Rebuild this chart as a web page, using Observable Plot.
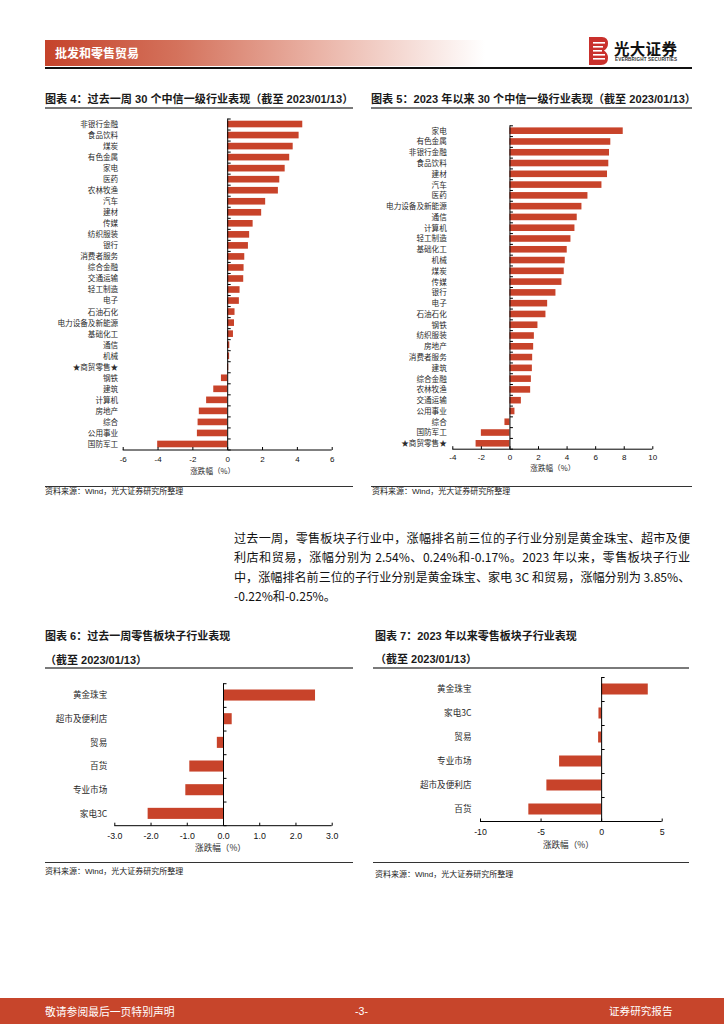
<!DOCTYPE html>
<html>
<head>
<meta charset="utf-8">
<script src="https://cdn.jsdelivr.net/npm/d3@7"></script>
<script src="https://cdn.jsdelivr.net/npm/@observablehq/plot@0.6"></script>
<style>
  html, body { margin: 0; padding: 0; background: #fff; }
  #page { position: relative; width: 724px; height: 1024px; overflow: hidden; background: #fff;
          font-family: "Liberation Sans", "Noto Sans CJK SC", sans-serif; color: #111; }
  .abs { position: absolute; white-space: nowrap; }
  .title { font-size: 11.1px; font-weight: bold; line-height: 13px; color: #1a1a1a; }
  .title2 { font-size: 11px; font-weight: bold; line-height: 14px; color: #1a1a1a; }
  .rule-gray { position: absolute; height: 1.5px; background: #7a7a7a; }
  .rule-dark { position: absolute; height: 1px; background: #333; }
  .source { font-size: 8px; line-height: 10px; color: #222; }
  .para { position: absolute; left: 234px; width: 456px; font-size: 12.1px; line-height: 19.3px; color: #111;
          font-family: "Noto Sans CJK SC", "Liberation Sans", sans-serif; }
  .para div { text-align: justify; text-align-last: justify; white-space: nowrap; }
  .para div.last { text-align-last: left; }
  .chart { position: absolute; }
  .chart svg { display: block; overflow: visible; }
</style>
</head>
<body>
<div id="page">
  <!-- header -->
  <div class="abs" style="left:45px;top:40px;width:440px;height:26px;background:linear-gradient(to right,#c5432b 0%,#d4725c 30%,#eab3a6 62%,#ffffff 100%);"></div>
  <div class="abs" style="left:55px;top:45px;font-size:12px;line-height:16px;font-weight:bold;color:#fff;font-family:'Noto Sans CJK SC',sans-serif;">批发和零售贸易</div>
  <svg class="abs" style="left:589px;top:37px" width="20" height="28" viewBox="0 0 20 28">
    <path d="M0 0 H13 Q19 0 19 6.5 Q19 11 15 13.5 Q19 16 19 21 Q19 28 12 28 H0 Z" fill="#c9302c"/>
    <rect x="4" y="5" width="12" height="1.6" fill="#fff"/>
    <rect x="4" y="9" width="10" height="1.6" fill="#fff"/>
    <rect x="4" y="13" width="9" height="1.6" fill="#fff"/>
    <rect x="4" y="17" width="12" height="1.6" fill="#fff"/>
    <rect x="4" y="21" width="12" height="1.6" fill="#fff"/>
  </svg>
  <div class="abs" style="left:614px;top:39px;font-size:15.5px;line-height:18px;font-weight:bold;color:#111;font-family:'Noto Sans CJK SC',sans-serif;letter-spacing:0.3px;">光大证券</div>
  <div class="abs" style="left:615px;top:57px;font-size:4.6px;line-height:5px;color:#333;letter-spacing:0.15px;font-weight:bold;">EVERBRIGHT SECURITIES</div>
  <div class="abs" style="left:45px;top:67px;width:647px;height:1.6px;background:#111;"></div>

  <!-- top titles -->
  <div class="abs title" style="left:45px;top:93px;">图表 4：过去一周 30 个中信一级行业表现（截至 2023/01/13）</div>
  <div class="rule-gray" style="left:45px;top:107px;width:308px;"></div>
  <div class="abs title" style="left:371px;top:93px;">图表 5：2023 年以来 30 个中信一级行业表现（截至 2023/01/13）</div>
  <div class="rule-gray" style="left:371px;top:107px;width:321px;"></div>

  <div id="c4" class="chart" style="left:45px;top:110px;"></div>
  <div id="c5" class="chart" style="left:371px;top:110px;"></div>

  <div class="rule-dark" style="left:45px;top:486px;width:308px;"></div>
  <div class="abs source" style="left:45px;top:487px;">资料来源：Wind，光大证券研究所整理</div>
  <div class="rule-dark" style="left:371px;top:486px;width:321px;"></div>
  <div class="abs source" style="left:372px;top:487px;">资料来源：Wind，光大证券研究所整理</div>

  <!-- paragraph -->
  <div class="para" style="top:528px;">
    <div>过去一周，零售板块子行业中，涨幅排名前三位的子行业分别是黄金珠宝、超市及便</div>
    <div>利店和贸易，涨幅分别为 2.54%、0.24%和-0.17%。2023 年以来，零售板块子行业</div>
    <div>中，涨幅排名前三位的子行业分别是黄金珠宝、家电 3C 和贸易，涨幅分别为 3.85%、</div>
    <div class="last">-0.22%和-0.25%。</div>
  </div>

  <!-- bottom titles -->
  <div class="abs title2" style="left:45px;top:629px;">图表 6：过去一周零售板块子行业表现</div>
  <div class="abs title2" style="left:45px;top:653px;">（截至 2023/01/13）</div>
  <div class="rule-gray" style="left:45px;top:667px;width:308px;"></div>
  <div class="abs title2" style="left:375px;top:629px;">图表 7：2023 年以来零售板块子行业表现</div>
  <div class="abs title2" style="left:375px;top:652px;">（截至 2023/01/13）</div>
  <div class="rule-gray" style="left:373px;top:667px;width:316px;"></div>

  <div id="c6" class="chart" style="left:45px;top:672px;"></div>
  <div id="c7" class="chart" style="left:371px;top:670px;"></div>

  <div class="rule-dark" style="left:45px;top:862px;width:308px;"></div>
  <div class="abs source" style="left:45px;top:867px;">资料来源：Wind，光大证券研究所整理</div>
  <div class="rule-dark" style="left:373px;top:862px;width:316px;"></div>
  <div class="abs source" style="left:375px;top:870px;">资料来源：Wind，光大证券研究所整理</div>

  <!-- footer -->
  <div class="abs" style="left:0;top:998px;width:724px;height:26px;background:#c7452b;"></div>
  <div class="abs" style="left:45px;top:1004px;font-size:10.8px;line-height:14px;color:#fff;font-family:'Noto Sans CJK SC',sans-serif;">敬请参阅最后一页特别声明</div>
  <div class="abs" style="left:355px;top:1004px;font-size:10.6px;line-height:14px;color:#fff;">-3-</div>
  <div class="abs" style="left:609px;top:1004px;font-size:10.6px;line-height:14px;color:#fff;font-family:'Noto Sans CJK SC',sans-serif;">证券研究报告</div>
</div>

<script>
// ---------------- data ----------------
const weekIndustries = ["非银行金融","食品饮料","煤炭","有色金属","家电","医药","农林牧渔","汽车","建材","传媒",
  "纺织服装","银行","消费者服务","综合金融","交通运输","轻工制造","电子","石油石化","电力设备及新能源","基础化工",
  "通信","机械","★商贸零售★","钢铁","建筑","计算机","房地产","综合","公用事业","国防军工"];
const weekChanges = [4.31,4.10,3.76,3.56,3.30,2.99,2.91,2.18,1.95,1.46,
  1.26,1.19,0.98,0.94,0.92,0.71,0.67,0.42,0.39,0.33,
  0.12,0.11,0.06,-0.36,-0.80,-1.21,-1.63,-1.70,-1.74,-4.02];
const weekTicks = [-6,-4,-2,0,2,4,6];

const ytdIndustries = ["家电","有色金属","非银行金融","食品饮料","建材","汽车","医药","电力设备及新能源","通信","计算机",
  "轻工制造","基础化工","机械","煤炭","传媒","银行","电子","石油石化","钢铁","纺织服装",
  "房地产","消费者服务","建筑","综合金融","农林牧渔","交通运输","公用事业","综合","国防军工","★商贸零售★"];
const ytdChanges = [7.93,7.06,6.97,6.92,6.83,6.44,5.46,5.04,4.71,4.55,
  4.27,4.01,3.87,3.80,3.64,3.22,2.64,2.52,1.96,1.71,
  1.66,1.59,1.57,1.50,1.45,0.80,0.35,-0.35,-2.00,-2.37];
const ytdTicks = [-4,-2,0,2,4,6,8,10];

const weekRetail = ["黄金珠宝","超市及便利店","贸易","百货","专业市场","家电3C"];
const weekRetailChanges = [2.54,0.24,-0.17,-0.93,-1.04,-2.08];
const weekRetailTicks = [-3,-2,-1,0,1,2,3];

const ytdRetail = ["黄金珠宝","家电3C","贸易","专业市场","超市及便利店","百货"];
const ytdRetailChanges = [3.85,-0.22,-0.25,-3.47,-4.52,-6.01];
const ytdRetailTicks = [-10,-5,0,5];

const axisTitle = "涨跌幅（%）";

// ---------------- drawing ----------------
const RED = "#c8432a";
const CJK = "'Noto Sans CJK SC', sans-serif";
const tickRight = {draw(ctx) { ctx.moveTo(0, 0); ctx.lineTo(3, 0); }};
const tickUp = {draw(ctx) { ctx.moveTo(0, 0); ctx.lineTo(0, -3); }};

function barChart(o) {
  const n = o.cats.length;
  const idx = d3.range(n);
  const bounds = d3.range(n + 1).map(i => i - 0.5);
  return Plot.plot({
    width: o.width, height: o.height,
    marginLeft: o.ml, marginRight: o.mr, marginTop: o.mt, marginBottom: o.mb,
    x: {domain: [o.ticks[0], o.ticks[o.ticks.length - 1]]},
    y: {domain: [-0.5, n - 0.5], reverse: true},
    style: {fontFamily: "'Liberation Sans', 'Noto Sans CJK SC', sans-serif", fontSize: o.numSize + "px", color: "#000", background: "transparent", overflow: "visible"},
    marks: [
      Plot.rectX(idx, {x1: 0, x2: i => o.vals[i], y1: i => i - 0.5, y2: i => i + 0.5,
        insetTop: o.inset, insetBottom: o.inset, fill: RED}),
      Plot.ruleX([0], {stroke: "#000", strokeWidth: 1}),
      Plot.ruleY([n - 0.5], {stroke: "#000", strokeWidth: 1}),
      Plot.dot(bounds, {x: () => 0, y: d => d, symbol: tickRight, stroke: "#000", fill: "none", strokeWidth: 1}),
      Plot.dot(o.ticks, {x: d => d, frameAnchor: "bottom", symbol: tickUp, stroke: "#000", fill: "none", strokeWidth: 1}),
      Plot.axisX({ticks: o.ticks, tickSize: 0, tickPadding: o.xPad, tickFormat: o.fmt, label: null,
        fontSize: o.numSize, fill: "#111"}),
      Plot.axisY({ticks: idx, tickSize: 0, tickPadding: o.yPad, tickFormat: i => o.cats[i], label: null,
        fontFamily: CJK, fontSize: o.catSize, fill: "#2a2a2a"}),
      Plot.text([axisTitle], {text: d => d, frameAnchor: "bottom", dy: o.titleDy, dx: o.titleDx,
        fontFamily: CJK, fontSize: o.catSize, fill: "#2a2a2a"})
    ]
  });
}

const intFmt = d => String(d);
const oneFmt = d => d.toFixed(1);

document.getElementById("c4").append(barChart({
  cats: weekIndustries, vals: weekChanges, ticks: weekTicks, fmt: intFmt,
  width: 308, height: 380, ml: 77.7, mr: 21.3, mt: 8.5, mb: 40.5,
  inset: 2.2, numSize: 8, catSize: 7.6, xPad: 6, yPad: 5, titleDy: 23.5, titleDx: -15
}));
document.getElementById("c5").append(barChart({
  cats: ytdIndustries, vals: ytdChanges, ticks: ytdTicks, fmt: intFmt,
  width: 321, height: 380, ml: 81.3, mr: 39.7, mt: 15.3, mb: 41.3,
  inset: 2.1, numSize: 8, catSize: 7.6, xPad: 5, yPad: 6, titleDy: 22, titleDx: 0
}));
document.getElementById("c6").append(barChart({
  cats: weekRetail, vals: weekRetailChanges, ticks: weekRetailTicks, fmt: oneFmt,
  width: 308, height: 188, ml: 69.3, mr: 21.3, mt: 11.2, mb: 34.8,
  inset: 6.3, numSize: 8.8, catSize: 8.6, xPad: 7, yPad: 7.5, titleDy: 25, titleDx: -3
}));
document.getElementById("c7").append(barChart({
  cats: ytdRetail, vals: ytdRetailChanges, ticks: ytdRetailTicks, fmt: intFmt,
  width: 321, height: 190, ml: 109, mr: 30.3, mt: 7, mb: 39,
  inset: 6.5, numSize: 8.8, catSize: 8.6, xPad: 7, yPad: 9, titleDy: 26, titleDx: -3
}));
</script>
</body>
</html>
